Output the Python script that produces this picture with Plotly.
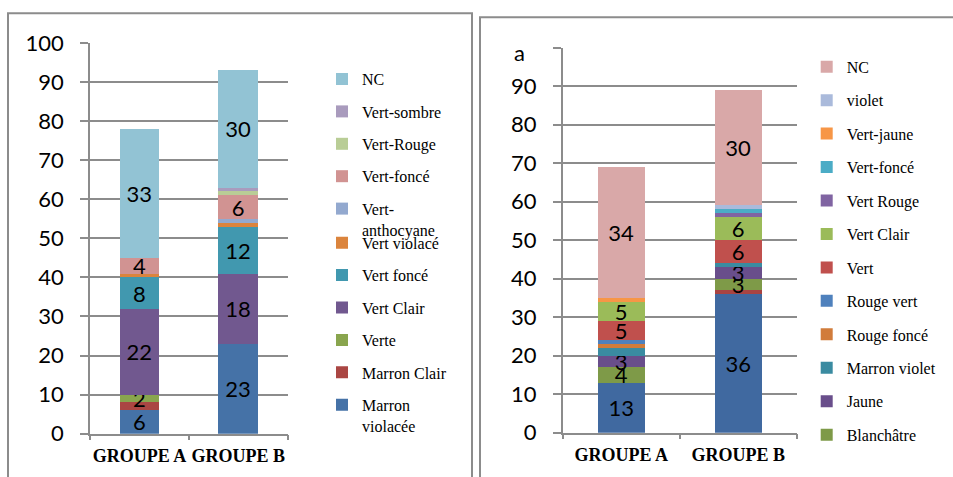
import plotly.graph_objects as go
from plotly.subplots import make_subplots

# ---------------------------------------------------------------- data
groups = ["GROUPE A", "GROUPE B"]

# Left panel: series listed from the bottom of each stack to the top
left_series = ["Marron<br>violacée", "Marron Clair", "Verte", "Vert Clair",
               "Vert foncé", "Vert violacé", "Vert-<br>anthocyane",
               "Vert-foncé", "Vert-Rouge", "Vert-sombre", "NC"]
left_groupe_a = [6, 2, 2, 22, 8, 1, 0, 4, 0, 0, 33]
left_groupe_b = [23, 0, 0, 18, 12, 1, 1, 6, 1, 1, 30]
left_labelled = ["Marron<br>violacée", "Verte", "Vert Clair", "Vert foncé",
                 "Vert-foncé", "NC"]

# Right panel: the first two series carry no legend entry
right_series = ["Marron", "Rouge", "Blanchâtre", "Jaune", "Marron violet",
                "Rouge foncé", "Rouge vert", "Vert", "Vert Clair",
                "Vert Rouge", "Vert-foncé", "Vert-jaune", "violet", "NC"]
right_groupe_a = [13, 0, 4, 3, 2, 1, 1, 5, 5, 0, 0, 1, 0, 34]
right_groupe_b = [36, 1, 3, 3, 1, 0, 0, 6, 6, 1, 1, 0, 1, 30]
right_labelled = ["Marron", "Blanchâtre", "Jaune", "Vert", "Vert Clair", "NC"]
right_unlisted = ["Marron", "Rouge"]

left_ticks = [0, 10, 20, 30, 40, 50, 60, 70, 80, 90, 100]
right_ticks = [0, 10, 20, 30, 40, 50, 60, 70, 80, 90, 100]
right_tick_text = ["0", "10", "20", "30", "40", "50", "60", "70", "80", "90", ""]

# ---------------------------------------------------------------- styles
left_colors = ["#4572A7", "#AA4643", "#89A54E", "#71588F", "#4198AF",
               "#DB843D", "#93A9CF", "#D19392", "#B9CD96", "#A99BBD",
               "#92C3D4"]
right_colors = ["#4069A0", "#A94442", "#7E9A48", "#694E8B", "#3A8BA1",
                "#D17C3B", "#4F81BD", "#C0504D", "#9BBB59", "#8064A2",
                "#4BACC6", "#F79646", "#AABADB", "#D9A8A8"]

W, H = 953, 477
GRID = "#8c8c8c"
NUM_FONT = dict(family="Lato", size=22, color="black")
SERIF = "Liberation Serif"


def px_x(x):
    return x / W


def px_y(y):
    return 1 - y / H


fig = make_subplots(rows=1, cols=2)


def add_stack(names, vals_a, vals_b, colors, labelled, col, legend_of, unlisted=()):
    n = len(names)
    for i, name in enumerate(names):
        vals = [vals_a[i], vals_b[i]]
        text = [str(v) if (name in labelled and v > 0) else "" for v in vals]
        fig.add_trace(go.Bar(
            x=groups, y=vals, name=name,
            marker=dict(color=colors[i], line=dict(width=0)),
            text=text, textposition="inside", insidetextanchor="middle",
            textangle=0, constraintext="none",
            textfont=NUM_FONT,
            legend=legend_of(i), legendgroup=f"c{col}-{i}",
            legendrank=1000 + n - i,
            showlegend=name not in unlisted,
        ), row=1, col=col)


add_stack(left_series, left_groupe_a, left_groupe_b, left_colors, left_labelled, 1,
          lambda i: "legend2" if i < 6 else "legend")
add_stack(right_series, right_groupe_a, right_groupe_b, right_colors, right_labelled, 2,
          lambda i: "legend3", right_unlisted)

axis_common = dict(showline=True, linecolor=GRID, linewidth=1.5)

fig.update_xaxes(type="category", tickson="boundaries", ticks="outside", ticklen=5,
                 tickcolor=GRID, tickwidth=1.5, showgrid=False, tickangle=0,
                 ticklabelstandoff=5,
                 tickfont=dict(family=SERIF, size=18, color="black", weight="bold"),
                 **axis_common)
fig.update_yaxes(range=[0, 100], showgrid=True, gridcolor=GRID, gridwidth=1.5,
                 zeroline=False, ticks="outside", ticklen=8, tickcolor=GRID,
                 tickwidth=1.5, tickfont=NUM_FONT, ticklabelstandoff=12,
                 **axis_common)

fig.update_layout(
    xaxis=dict(domain=[px_x(90), px_x(287.5)]),
    yaxis=dict(domain=[px_y(433.7), px_y(43)], tickvals=left_ticks),
    xaxis2=dict(domain=[px_x(562.7), px_x(796.7)]),
    yaxis2=dict(domain=[px_y(432.7), px_y(47.5)], tickvals=right_ticks,
                ticktext=right_tick_text),
)

legend_common = dict(traceorder="grouped", bgcolor="rgba(0,0,0,0)",
                     borderwidth=0, itemwidth=30, valign="top",
                     font=dict(family=SERIF, size=16, color="black"),
                     xanchor="left", yanchor="top", itemclick=False)

fig.update_layout(
    width=W, height=H,
    margin=dict(l=0, r=0, t=0, b=0, autoexpand=False),
    paper_bgcolor="white", plot_bgcolor="white",
    barmode="stack", bargap=0.6,
    showlegend=True,
    legend=dict(x=px_x(322), y=px_y(62.1), tracegroupgap=8.6, **legend_common),
    legend2=dict(x=px_x(322), y=px_y(225.8), tracegroupgap=8.6, **legend_common),
    legend3=dict(x=px_x(806.7), y=px_y(49.8), tracegroupgap=9.65, **legend_common),
    shapes=[
        dict(type="rect", xref="paper", yref="paper", layer="below",
             x0=px_x(8), x1=px_x(472), y0=-0.1, y1=px_y(13.3),
             line=dict(color=GRID, width=2)),
        dict(type="rect", xref="paper", yref="paper", layer="below",
             x0=px_x(480), x1=1.1, y0=-0.1, y1=px_y(17.3),
             line=dict(color=GRID, width=2)),
    ],
    annotations=[
        dict(text="a", xref="paper", yref="paper", x=px_x(519), y=px_y(52),
             showarrow=False, font=NUM_FONT, xanchor="center", yanchor="middle"),
    ],
)

fig.write_html("out.html")
